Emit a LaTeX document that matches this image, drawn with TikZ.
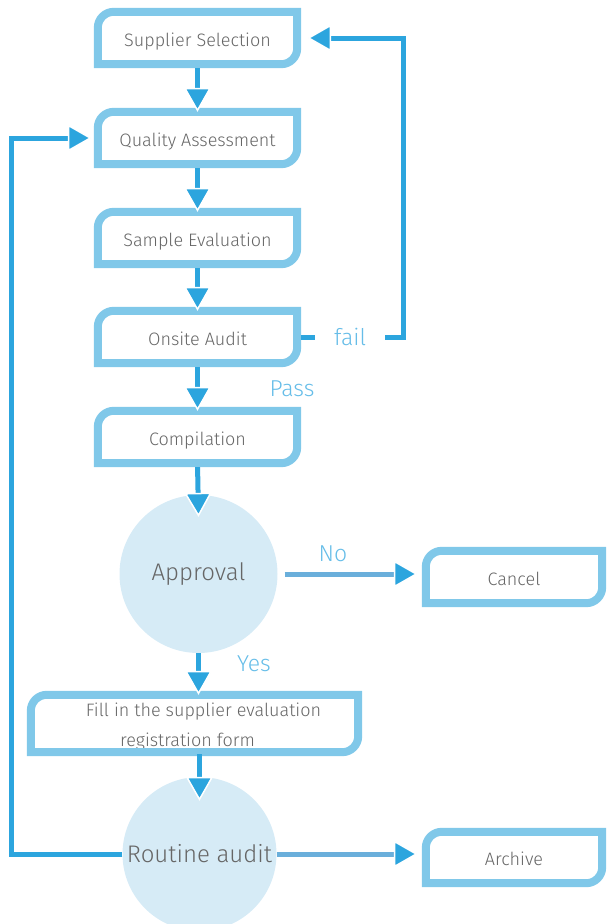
\documentclass[tikz,border=0pt]{standalone}
\usepackage{fontspec}
\setmainfont{Fira Sans}
\newfontfamily\lightfont{Fira Sans}[UprightFont=* Light]
\usetikzlibrary{arrows.meta,calc}
\definecolor{boxblue}{HTML}{80C8E9}
\definecolor{arrblue}{HTML}{2CA5DE}
\definecolor{lineblue}{HTML}{6AAFDB}
\definecolor{circfill}{HTML}{D6EBF6}
\definecolor{txtgray}{HTML}{666666}
\definecolor{lblblue}{HTML}{66BDE8}
\tikzset{
 flowbox/.style={rectangle, draw=none, inner sep=0pt, text=txtgray, font=\lightfont\fontsize{18}{30}\selectfont, text height=16pt, text depth=0pt},
 boxline/.style={draw=boxblue, line width=8pt, line join=miter},
 circ/.style={circle, fill=circfill, inner sep=0pt, minimum size=158pt, text=txtgray, font=\lightfont\fontsize{24}{28}\selectfont},
 flow/.style={draw=arrblue, line width=5pt, -{Triangle[width=27pt,length=24pt,fill=arrblue,color=white,line width'=1.5pt]}},
 lbl/.style={text=lblblue, font=\lightfont\fontsize{23}{26}\selectfont},
}
\newcommand\roundbox[1]{\draw[boxline] (#1.south west) -- ([yshift=-16pt]#1.north west) arc[start angle=180,end angle=90,radius=16pt] -- (#1.north east) -- ([yshift=16pt]#1.south east) arc[start angle=0,end angle=-90,radius=16pt] -- cycle;}
\begin{document}
\begin{tikzpicture}[x=1pt,y=-1pt]
\useasboundingbox (0,0) rectangle (606,924);
% nodes
\node[flowbox, minimum width=199pt, minimum height=52pt] (supp) at (197.5,38) {Supplier Selection};
\node[flowbox, minimum width=199pt, minimum height=52pt] (qual) at (197.5,138) {Quality Assessment};
\node[flowbox, minimum width=199pt, minimum height=52pt] (samp) at (197.5,238) {Sample Evaluation};
\node[flowbox, minimum width=199pt, minimum height=52pt] (ons) at (197.5,337) {Onsite Audit};
\node[flowbox, minimum width=199pt, minimum height=52pt] (comp) at (197.5,437) {Compilation};
\node[circ] (appr) at (198.5,574) {Approval};
\node[flowbox, minimum width=176pt, minimum height=52pt] (cancel) at (514,577) {Cancel};
\node[flowbox, minimum width=327pt, minimum height=57pt, align=center, text height=, text depth=] (fill) at (194.5,726.5) {\hspace*{18pt}Fill in the supplier evaluation\\registration form\hspace*{14pt}};
\node[circ, minimum size=154pt] (rout) at (199.5,854) {Routine audit};
\node[flowbox, minimum width=176pt, minimum height=51pt] (arch) at (514,857.5) {Archive};
% outlines
\roundbox{supp}
\roundbox{qual}
\roundbox{samp}
\roundbox{ons}
\roundbox{comp}
\roundbox{cancel}
\draw[boxline] ([yshift=3pt]fill.south west) -- ([yshift=-13pt]fill.north west) arc[start angle=180,end angle=90,radius=16pt] -- ([yshift=3pt]fill.north east) -- ([yshift=19pt]fill.south east) arc[start angle=0,end angle=-90,radius=16pt] -- cycle;
\roundbox{arch}
% labels
\node[lbl] (pass) at (292,389) {Pass};
\node[lbl] (no) at (333,554) {No};
\node[lbl] (yes) at (254,664) {Yes};
% connectors
\coordinate (ft) at (403,337);
\coordinate (fb) at (11,855);
\draw[flow, shorten <=4pt] (supp.south) -- (qual.north);
\draw[flow, shorten <=4pt] (qual.south) -- (samp.north);
\draw[flow, shorten <=4pt] (samp.south) -- (ons.north);
\draw[flow, shorten <=4pt] (ons.south) -- (comp.north);
\draw[flow, shorten <=4pt] (comp.south) -- ([yshift=-22pt]appr.north);
\draw[flow] (appr.south) -- ([yshift=3pt]appr.south |- fill.north);
\draw[flow, shorten <=2pt] ([yshift=3pt]fill.south -| rout.north) -- ([yshift=-24pt]rout.north);
\draw[flow, draw=lineblue, shorten <=7pt, shorten >=8pt] (appr.east) -- (appr.east -| cancel.west);
\draw[flow, draw=lineblue, shorten >=8pt] (rout.east) -- (rout.east -| arch.west);
\draw[flow, shorten <=4pt, shorten >=10pt] (ons.east) -- node[lbl, fill=white, inner xsep=19pt, inner ysep=0pt] (fail) {fail} (ft) |- (supp.east);
\draw[flow, shorten >=6pt] (rout.west) -- (rout.west -| fb) |- (qual.west);
\end{tikzpicture}
\end{document}
